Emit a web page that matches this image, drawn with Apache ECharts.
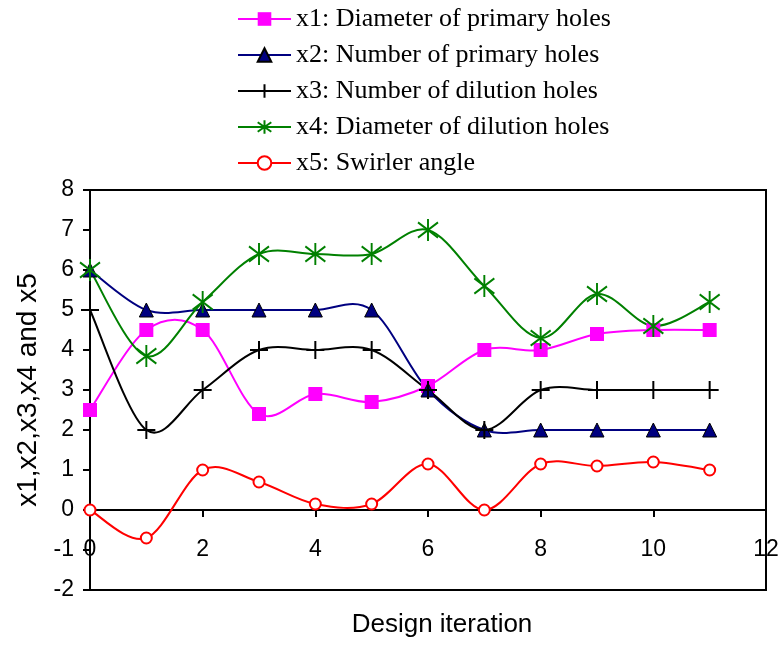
<!DOCTYPE html>
<html>
<head>
<meta charset="utf-8">
<script src="https://cdn.jsdelivr.net/npm/echarts@6/dist/echarts.min.js"></script>
<style>
  html, body { margin: 0; padding: 0; background: #fff; }
  #chart { width: 782px; height: 648px; }
</style>
</head>
<body>
<div id="chart"></div>
<script>
  // design iterations on the x axis
  const iterations = [0, 1, 2, 3, 4, 5, 6, 7, 8, 9, 10, 11]
  const x1Values = [2.5, 4.5, 4.5, 2.4, 2.9, 2.7, 3.1, 4.0, 4.0, 4.4, 4.5, 4.5]
  const x2Values = [6, 5, 5, 5, 5, 5, 3, 2, 2, 2, 2, 2]
  const x3Values = [5, 2, 3, 4, 4, 4, 3, 2, 3, 3, 3, 3]
  const x4Values = [6, 3.85, 5.2, 6.4, 6.4, 6.4, 7.0, 5.6, 4.3, 5.4, 4.6, 5.2]
  const x5Values = [0, -0.7, 1.0, 0.7, 0.15, 0.15, 1.15, 0, 1.15, 1.1, 1.2, 1.0]
  const seriesNames = [
    'x1: Diameter of primary holes',
    'x2: Number of primary holes',
    'x3: Number of dilution holes',
    'x4: Diameter of dilution holes',
    'x5: Swirler angle'
  ]

  const pairs = vals => iterations.map((it, i) => [it, vals[i]])

  const plusPath = 'path://M0,5 L10,5 M5,0 L5,10'
  const starPath = 'path://M5,0 L5,10 M0,1.5 L10,8.5 M0,8.5 L10,1.5'

  // excel style smoothed line (catmull-rom bezier, overshoots like the original)
  function smoothCurve(name, vals, color) {
    return {
      name: name + ' curve',
      type: 'custom',
      silent: true,
      data: pairs(vals),
      renderItem(params, api) {
        const n = params.dataInsideLength
        const i = params.dataIndexInside
        if (i >= n - 1) return
        const pt = k => {
          k = Math.max(0, Math.min(n - 1, k))
          return api.coord([api.value(0, k), api.value(1, k)])
        }
        const p0 = pt(i - 1), p1 = pt(i), p2 = pt(i + 1), p3 = pt(i + 2)
        return {
          type: 'bezierCurve',
          shape: {
            x1: p1[0], y1: p1[1],
            x2: p2[0], y2: p2[1],
            cpx1: p1[0] + (p2[0] - p0[0]) / 6,
            cpy1: p1[1] + (p2[1] - p0[1]) / 6,
            cpx2: p2[0] - (p3[0] - p1[0]) / 6,
            cpy2: p2[1] - (p3[1] - p1[1]) / 6
          },
          style: { stroke: color, lineWidth: 2, fill: null }
        }
      }
    }
  }

  function markers(name, vals, color, symbol, size, itemStyle) {
    return {
      name: name,
      type: 'line',
      symbol: symbol,
      symbolSize: size,
      showSymbol: true,
      lineStyle: { color: color, width: 2, opacity: 0 },
      itemStyle: itemStyle,
      data: pairs(vals)
    }
  }

  const chart = echarts.init(document.getElementById('chart'))
  chart.setOption({
    animation: false,
    backgroundColor: '#fff',
    legend: {
      orient: 'vertical',
      left: 237,
      top: 6,
      padding: 0,
      itemWidth: 53,
      itemHeight: 17,
      itemGap: 10,
      selectedMode: false,
      lineStyle: { opacity: 1, width: 2 },
      textStyle: {
        fontFamily: 'Liberation Serif',
        fontSize: 26,
        color: '#000'
      },
      data: seriesNames
    },
    grid: {
      left: 90,
      right: 16,
      top: 190,
      bottom: 58,
      outerBoundsMode: 'none',
      show: true,
      borderColor: '#000',
      borderWidth: 2
    },
    xAxis: {
      type: 'value',
      min: 0,
      max: 12,
      interval: 2,
      name: 'Design iteration',
      nameLocation: 'middle',
      nameGap: 22,
      nameTextStyle: {
        fontFamily: 'Liberation Sans',
        fontSize: 26,
        color: '#000',
        padding: [0, 0, 0, 28]
      },
      axisLine: { onZero: true, lineStyle: { color: '#000', width: 2 } },
      axisTick: { show: true, inside: false, length: 7, lineStyle: { color: '#000', width: 2 } },
      axisLabel: {
        // labels stay at the grid edge, pull them up next to the zero line
        margin: -52,
        fontFamily: 'Liberation Sans',
        fontSize: 23,
        color: '#000'
      },
      splitLine: { show: false }
    },
    yAxis: {
      type: 'value',
      min: -2,
      max: 8,
      interval: 1,
      name: 'x1,x2,x3,x4 and x5',
      nameLocation: 'middle',
      nameGap: 46,
      nameTextStyle: {
        fontFamily: 'Liberation Sans',
        fontSize: 28,
        color: '#000'
      },
      axisLine: { show: true, lineStyle: { color: '#000', width: 2 } },
      axisTick: { show: true, inside: false, length: 7, lineStyle: { color: '#000', width: 2 } },
      axisLabel: {
        margin: 16,
        fontFamily: 'Liberation Sans',
        fontSize: 23,
        color: '#000'
      },
      splitLine: { show: false }
    },
    series: [
      smoothCurve(seriesNames[0], x1Values, '#ff00ff'),
      markers(seriesNames[0], x1Values, '#ff00ff', 'rect', 14, { color: '#ff00ff' }),
      smoothCurve(seriesNames[1], x2Values, '#000080'),
      markers(seriesNames[1], x2Values, '#000080', 'triangle', 14,
        { color: '#000080', borderColor: '#000', borderWidth: 1 }),
      smoothCurve(seriesNames[2], x3Values, '#000000'),
      markers(seriesNames[2], x3Values, '#000000', plusPath, 18,
        { color: '#000', borderColor: '#000', borderWidth: 2 }),
      smoothCurve(seriesNames[3], x4Values, '#008000'),
      markers(seriesNames[3], x4Values, '#008000', starPath, [20, 22],
        { color: '#008000', borderColor: '#008000', borderWidth: 2 }),
      smoothCurve(seriesNames[4], x5Values, '#ff0000'),
      markers(seriesNames[4], x5Values, '#ff0000', 'emptyCircle', 11,
        { color: '#ff0000', borderColor: '#ff0000', borderWidth: 2 })
    ]
  })
</script>
</body>
</html>
